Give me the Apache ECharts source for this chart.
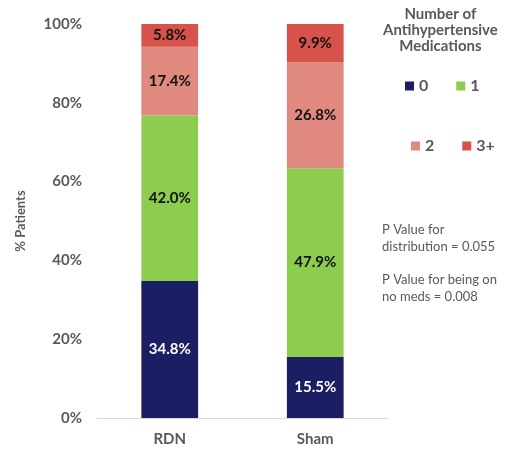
<!DOCTYPE html>
<html>
<head>
<meta charset="utf-8">
<script src="https://cdn.jsdelivr.net/npm/echarts@6/dist/echarts.min.js"></script>
<style>
  html, body { margin: 0; padding: 0; background: #fff; }
  #container { width: 507px; height: 449px; }
</style>
</head>
<body>
<div id="container"></div>
<script type="text/javascript">
    // data
    var groups = ['RDN', 'Sham'];
    var meds0 = [34.8, 15.5];
    var meds1 = [42.0, 47.9];
    var meds2 = [17.4, 26.8];
    var meds3 = [5.8, 9.9];
    var yTicks = [0, 20, 40, 60, 80, 100];

    var chartDom = document.getElementById('container');
    var myChart = echarts.init(chartDom);
    var option;

    const colors = ['#1b1e62', '#8dcc4f', '#e0897f', '#d6524a'];
    const grey = '#595959';
    const font = 'Lato, "Open Sans", sans-serif';

    function seg(name, data, labelColor) {
        return {
            name: name,
            type: 'bar',
            stack: 'total',
            barWidth: '39%',
            data: data,
            label: {
                show: true,
                position: 'inside',
                color: labelColor,
                fontFamily: font,
                fontWeight: 'bold',
                fontSize: 15,
                formatter: function (p) { return p.value.toFixed(1) + '%'; }
            }
        };
    }

    option = {
        color: colors,
        animation: false,
        textStyle: { fontFamily: font },
        grid: { left: 97, right: 119, top: 24, bottom: 31 },
        legend: [
            {
                data: ['0', '1'],
                left: 400, top: 73,
                icon: 'rect', itemWidth: 9, itemHeight: 9, itemGap: 28,
                textStyle: { color: grey, fontSize: 16, fontWeight: 'bold', fontFamily: font }
            },
            {
                data: ['2', '3+'],
                left: 406, top: 133,
                icon: 'rect', itemWidth: 9, itemHeight: 9, itemGap: 28,
                textStyle: { color: grey, fontSize: 16, fontWeight: 'bold', fontFamily: font }
            }
        ],
        graphic: [
            {
                type: 'text', left: 383, top: 6,
                style: {
                    text: 'Number of\nAntihypertensive\nMedications',
                    textAlign: 'center',
                    fill: grey, font: 'bold 15px ' + font, lineHeight: 16
                }
            },
            {
                type: 'text', left: 382, top: 221,
                style: {
                    text: 'P Value for\ndistribution = 0.055',
                    fill: grey, font: '13px ' + font, lineHeight: 17
                }
            },
            {
                type: 'text', left: 382, top: 271,
                style: {
                    text: 'P Value for being on\nno meds = 0.008',
                    fill: grey, font: '13px ' + font, lineHeight: 17
                }
            }
        ],
        xAxis: {
            type: 'category',
            data: groups,
            axisTick: { show: false },
            axisLine: { show: true, lineStyle: { color: '#d9d9d9' } },
            axisLabel: { color: grey, fontSize: 15, fontWeight: 'bold', margin: 14, fontFamily: font }
        },
        yAxis: {
            type: 'value',
            min: yTicks[0],
            max: yTicks[yTicks.length - 1],
            interval: 20,
            name: '% Patients',
            nameLocation: 'middle',
            nameGap: 70,
            nameRotate: 90,
            nameTextStyle: { color: grey, fontSize: 13, fontWeight: 'bold', fontFamily: font },
            splitLine: { show: false },
            axisLine: { show: false },
            axisTick: { show: false },
            axisLabel: {
                color: grey, fontSize: 15, fontWeight: 'bold', margin: 15, fontFamily: font,
                formatter: '{value}%'
            }
        },
        series: [
            seg('0', meds0, '#ffffff'),
            seg('1', meds1, '#111111'),
            seg('2', meds2, '#111111'),
            seg('3+', meds3, '#111111')
        ]
    };

    option && myChart.setOption(option);
</script>
</body>
</html>
